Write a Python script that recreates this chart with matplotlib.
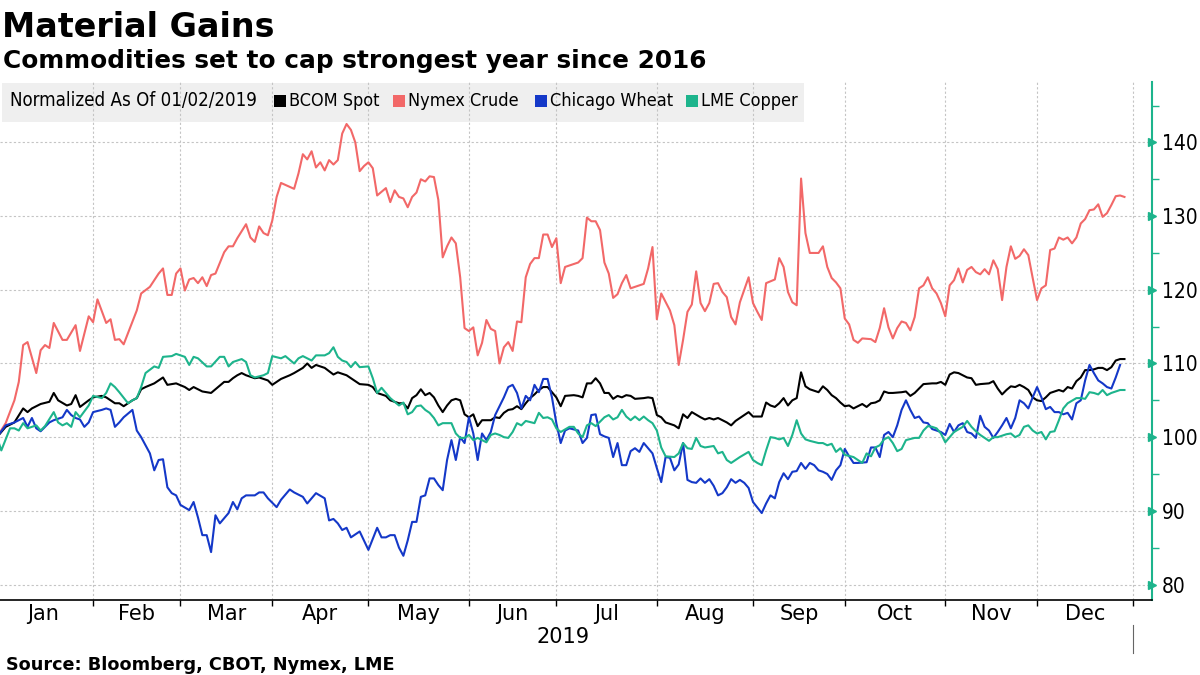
import matplotlib
matplotlib.use("Agg")
import matplotlib.pyplot as plt
import matplotlib.transforms as mtransforms
from matplotlib.patches import Rectangle
from matplotlib.ticker import NullFormatter
import pandas as pd

# values normalized to 100 on 01/02/2019; x = trading session number (0 = Jan 2, 2019)
bcom = [(0,100.0),(2,101.4),(4,102.0),(6,103.9),(7,103.4),(8,103.9),(10,104.5),(12,104.8),(13,106.0),(14,105.0),(16,104.3),(17,104.5),(18,105.7),(19,104.1),(21,105.0),(22,105.4),(24,105.6),(25,105.4),(27,104.6),(28,104.6),(29,104.2),(31,105.0),(32,105.3),(33,106.5),(34,106.8),(36,107.3),(38,108.1),(39,107.1),(41,107.3),(43,106.8),(44,106.4),(45,106.8),(47,106.2),(49,106.0),(52,107.5),(53,107.5),(54,108.0),(55,108.4),(56,108.7),(57,108.4),(59,108.0),(60,108.1),(62,107.7),(63,107.1),(65,107.9),(67,108.4),(68,108.7),(70,109.4),(71,110.0),(72,109.4),(73,109.8),(75,109.4),(77,108.5),(78,108.8),(80,108.4),(81,108.0),(83,107.2),(85,107.1),(86,106.8),(87,106.0),(89,105.6),(90,105.0),(92,104.6),(93,104.6),(94,103.9),(95,105.3),(96,105.7),(97,106.5),(98,105.7),(99,106.0),(100,105.4),(101,104.3),(102,103.4),(103,104.3),(104,105.0),(105,105.2),(106,105.0),(107,103.1),(108,102.7),(109,103.1),(110,101.5),(111,102.3),(112,102.3),(113,102.3),(114,102.7),(115,102.6),(116,103.3),(117,103.7),(118,103.8),(119,104.2),(120,103.8),(121,104.6),(122,105.3),(123,105.8),(124,106.4),(125,106.8),(126,106.8),(127,106.1),(128,105.4),(129,104.2),(130,105.6),(132,105.7),(133,105.6),(134,105.4),(135,107.3),(136,107.3),(137,108.0),(138,107.3),(139,106.0),(140,106.0),(141,105.2),(142,105.6),(143,105.4),(144,105.7),(145,105.6),(146,105.2),(148,105.3),(149,105.4),(150,105.3),(151,103.0),(152,102.7),(153,102.0),(155,101.6),(156,101.2),(157,103.1),(158,102.6),(159,103.4),(161,102.7),(162,102.4),(163,102.6),(164,102.4),(165,102.6),(167,102.0),(168,101.6),(169,102.2),(171,103.0),(172,103.4),(173,102.8),(175,102.8),(176,104.7),(177,104.3),(178,104.1),(179,104.6),(180,105.3),(181,104.3),(182,105.0),(183,105.3),(184,108.8),(185,106.9),(186,106.5),(188,106.1),(189,106.9),(190,106.4),(191,105.7),(192,105.3),(193,104.7),(194,104.2),(195,104.3),(196,103.9),(197,104.2),(198,104.5),(199,104.1),(200,104.6),(201,104.7),(202,105.0),(203,106.2),(204,106.0),(205,106.0),(207,106.1),(208,106.2),(209,105.6),(210,106.0),(211,106.6),(212,107.2),(214,107.3),(215,107.3),(216,107.5),(217,107.1),(218,108.5),(219,108.8),(220,108.7),(222,108.1),(223,108.0),(224,107.1),(225,107.2),(227,107.3),(228,107.6),(229,106.6),(230,105.8),(231,106.4),(232,106.9),(233,106.8),(234,107.1),(235,106.8),(236,106.4),(237,105.4),(238,105.0),(239,104.9),(240,105.4),(241,106.0),(242,106.2),(243,106.4),(244,106.2),(245,106.8),(246,106.6),(247,107.6),(248,108.1),(249,109.1),(250,109.1),(251,109.2),(252,109.4),(253,109.4),(254,109.1),(255,109.5),(256,110.4),(257,110.6),(258,110.6)]

crude = [(0,100.0),(2,101.9),(4,105.0),(5,107.5),(6,112.5),(7,112.9),(9,108.7),(10,111.8),(11,112.5),(12,112.1),(13,115.5),(15,113.2),(16,113.2),(18,115.2),(19,111.7),(21,116.4),(22,115.6),(23,118.7),(25,115.5),(26,116.0),(27,113.2),(28,113.3),(29,112.6),(32,117.2),(33,119.5),(35,120.4),(37,122.2),(38,122.9),(39,119.3),(40,119.3),(41,122.2),(42,122.9),(43,119.9),(44,121.4),(45,121.6),(46,120.9),(47,121.7),(48,120.5),(49,122.0),(50,122.2),(52,125.1),(53,125.9),(54,125.9),(55,127.0),(57,128.9),(58,127.1),(59,126.5),(60,128.6),(61,127.7),(62,127.4),(63,129.4),(64,132.6),(65,134.5),(68,133.7),(69,135.8),(70,138.4),(71,137.7),(72,138.8),(73,136.6),(74,137.3),(75,136.2),(76,137.6),(77,137.0),(78,137.6),(79,141.2),(80,142.5),(81,141.7),(82,140.0),(83,136.1),(84,136.8),(85,137.3),(86,136.5),(87,132.8),(89,133.8),(90,131.9),(91,133.5),(92,132.6),(93,132.4),(94,131.2),(95,132.6),(96,133.2),(97,135.0),(98,134.7),(99,135.4),(100,135.3),(101,132.2),(102,124.4),(103,125.9),(104,127.1),(105,126.3),(106,121.7),(107,114.8),(108,114.4),(109,114.9),(110,111.1),(111,112.8),(112,115.9),(113,114.7),(114,114.4),(115,110.0),(116,112.2),(117,112.9),(118,111.7),(119,115.7),(120,115.6),(121,121.7),(122,123.5),(123,124.3),(124,124.3),(125,127.5),(126,127.5),(127,125.8),(128,127.0),(129,120.9),(130,123.1),(131,123.3),(132,123.5),(133,123.7),(134,124.3),(135,129.8),(136,129.3),(137,129.3),(138,128.1),(139,123.7),(140,122.2),(141,118.9),(142,119.4),(143,120.9),(144,122.0),(145,120.2),(146,120.4),(148,120.8),(149,122.9),(150,125.8),(151,116.0),(152,119.5),(154,117.2),(155,115.2),(156,109.8),(157,113.2),(158,117.0),(159,118.0),(160,122.5),(161,118.2),(162,117.1),(163,118.2),(164,120.8),(165,120.9),(166,119.7),(167,119.0),(168,116.3),(169,115.3),(170,118.3),(172,121.7),(173,118.2),(174,117.0),(175,115.9),(176,120.9),(178,121.4),(179,124.3),(180,123.1),(181,119.7),(182,118.3),(183,117.9),(184,135.1),(185,127.7),(186,125.0),(188,125.0),(189,125.9),(190,123.1),(191,121.6),(192,121.0),(193,120.2),(194,116.1),(195,115.3),(196,113.2),(197,112.8),(198,113.4),(200,113.3),(201,112.9),(202,114.8),(203,117.5),(204,114.9),(205,113.4),(206,114.8),(207,115.7),(208,115.5),(209,114.5),(210,116.3),(211,120.2),(212,120.6),(213,121.7),(214,120.2),(215,119.5),(216,118.2),(217,116.4),(218,120.6),(219,121.3),(220,122.9),(221,121.0),(222,122.7),(223,123.1),(224,122.4),(225,122.1),(226,122.8),(227,122.1),(228,124.0),(229,122.8),(230,118.6),(231,123.1),(232,125.9),(233,124.2),(234,124.6),(235,125.5),(236,124.7),(237,121.6),(238,118.6),(239,120.2),(240,120.6),(241,125.4),(242,125.6),(243,127.1),(244,126.8),(245,127.1),(246,126.3),(247,127.1),(248,129.0),(249,129.6),(250,130.8),(251,130.9),(252,131.6),(253,129.9),(254,130.4),(255,131.5),(256,132.7),(257,132.8),(258,132.6)]

wheat = [(0,100.0),(2,101.6),(4,102.0),(6,102.6),(7,101.4),(8,102.6),(9,101.2),(10,100.8),(12,102.0),(13,102.3),(15,102.7),(16,103.7),(17,103.0),(18,102.6),(19,102.4),(20,101.4),(21,102.0),(22,103.4),(24,103.7),(25,103.9),(26,103.7),(27,101.4),(28,102.0),(29,102.7),(31,103.7),(32,100.9),(33,100.0),(35,97.8),(36,95.5),(37,96.9),(38,97.0),(39,93.2),(40,92.4),(41,92.1),(42,90.8),(44,90.1),(45,91.2),(46,89.1),(47,86.7),(48,86.7),(49,84.4),(50,89.4),(51,88.3),(53,89.7),(54,91.2),(55,90.2),(56,91.7),(57,92.1),(59,92.1),(60,92.5),(61,92.5),(62,91.7),(64,90.5),(65,91.5),(67,92.9),(68,92.5),(70,91.9),(71,91.0),(73,92.4),(75,91.7),(76,88.7),(77,88.9),(78,88.3),(79,87.4),(80,87.7),(81,86.4),(83,87.2),(85,84.7),(87,87.7),(88,86.4),(89,86.4),(90,86.7),(91,86.7),(92,85.0),(93,83.9),(94,86.0),(95,88.5),(96,88.5),(97,91.9),(98,92.1),(99,94.4),(100,94.4),(101,93.5),(102,92.8),(103,96.9),(104,99.6),(105,96.9),(106,100.0),(107,99.2),(108,102.7),(109,100.5),(110,96.9),(111,100.5),(112,99.6),(113,100.7),(114,103.0),(116,105.4),(117,106.8),(118,107.1),(119,106.0),(120,103.9),(121,105.6),(122,105.0),(123,107.1),(124,106.1),(125,107.9),(126,107.9),(127,105.4),(128,101.9),(129,99.2),(130,100.9),(131,101.2),(133,100.9),(134,99.2),(135,99.9),(136,103.0),(137,103.1),(138,100.4),(139,100.1),(140,99.9),(141,97.3),(142,99.2),(143,96.2),(144,96.2),(145,98.1),(146,98.5),(147,98.0),(148,99.2),(150,97.8),(151,95.8),(152,93.9),(153,97.3),(154,97.2),(155,95.5),(156,96.3),(157,99.2),(158,94.2),(159,93.9),(160,93.8),(161,94.4),(162,93.8),(163,94.3),(164,93.4),(165,92.1),(166,92.4),(167,93.2),(168,94.3),(169,93.8),(170,94.2),(171,93.8),(172,93.1),(173,91.2),(175,89.7),(176,91.0),(177,92.1),(178,91.7),(179,93.9),(180,95.1),(181,94.3),(182,95.3),(183,95.4),(184,96.5),(185,95.7),(186,96.5),(187,96.2),(188,95.5),(189,95.3),(190,95.0),(191,94.2),(192,95.5),(193,96.2),(194,98.4),(195,97.4),(196,96.5),(197,96.5),(199,96.6),(200,98.6),(201,98.6),(202,97.3),(203,100.3),(204,100.7),(205,100.0),(206,101.6),(207,103.7),(208,105.0),(209,103.7),(210,102.6),(211,102.8),(212,102.0),(213,101.9),(214,101.1),(215,100.9),(216,100.7),(217,100.3),(218,101.8),(219,100.7),(220,101.6),(221,101.9),(222,100.7),(223,100.5),(224,99.9),(225,102.9),(226,101.4),(227,100.9),(228,99.9),(229,100.7),(230,101.6),(231,102.6),(232,101.2),(233,102.6),(234,105.0),(235,104.6),(236,103.9),(237,105.4),(238,106.8),(239,105.4),(240,103.8),(241,104.1),(242,103.4),(243,103.4),(244,103.1),(245,103.3),(246,102.4),(247,104.6),(248,105.0),(249,107.7),(250,109.8),(251,108.7),(252,107.7),(253,107.3),(254,106.8),(255,106.6),(256,108.1),(257,109.8)]

copper = [(0,100.0),(1,98.2),(3,101.2),(4,101.2),(5,100.9),(6,101.9),(7,101.2),(9,101.6),(10,100.9),(11,101.5),(13,103.4),(14,102.0),(15,101.6),(16,101.9),(17,101.4),(18,103.4),(19,102.7),(21,104.3),(22,105.6),(24,105.3),(25,106.0),(26,107.3),(27,106.8),(28,106.1),(30,104.6),(31,105.0),(32,105.3),(33,106.8),(34,108.7),(36,109.6),(37,109.4),(38,110.9),(40,111.0),(41,111.3),(43,110.9),(44,109.8),(45,110.9),(46,110.7),(48,109.6),(49,109.6),(51,110.9),(52,110.9),(53,109.6),(54,110.2),(56,110.6),(57,110.2),(58,108.4),(59,108.1),(61,108.4),(62,108.7),(63,111.0),(65,110.7),(66,111.0),(68,110.0),(69,110.7),(70,111.0),(72,110.4),(73,111.1),(75,111.1),(76,111.4),(77,112.2),(78,110.9),(79,110.4),(80,110.2),(81,109.5),(82,110.2),(83,109.5),(85,109.6),(86,108.0),(87,106.0),(88,106.7),(89,106.0),(90,105.3),(92,104.3),(93,104.7),(94,103.1),(95,103.4),(96,104.2),(97,104.3),(98,103.7),(99,103.3),(100,102.6),(101,101.6),(102,101.9),(104,101.9),(105,100.5),(106,99.9),(107,99.9),(108,100.3),(109,99.6),(110,99.9),(112,99.3),(113,100.3),(114,100.5),(115,100.3),(116,100.0),(117,99.9),(118,100.7),(119,101.9),(120,101.6),(121,102.2),(123,101.9),(124,103.3),(125,102.6),(126,102.7),(127,102.4),(128,101.2),(129,100.7),(131,101.4),(132,101.4),(133,100.5),(134,100.0),(135,101.6),(136,101.9),(137,101.5),(139,102.7),(140,103.0),(141,102.4),(142,102.7),(143,103.7),(144,102.8),(145,102.3),(146,102.8),(147,102.3),(148,102.8),(149,102.3),(150,101.9),(151,100.9),(152,98.6),(153,97.4),(155,97.3),(156,97.8),(157,99.2),(158,98.5),(159,98.4),(160,99.9),(161,98.8),(162,98.6),(164,98.8),(165,97.8),(166,98.0),(167,96.9),(168,96.5),(169,96.9),(170,97.3),(172,98.0),(173,96.9),(174,96.5),(175,96.2),(176,98.2),(177,100.0),(178,99.9),(179,99.7),(180,99.9),(181,98.8),(182,100.3),(183,102.3),(184,100.5),(185,99.7),(186,99.5),(188,99.2),(189,99.2),(190,98.9),(191,99.1),(192,98.0),(193,98.5),(194,97.6),(196,97.3),(197,96.9),(198,96.5),(199,97.8),(200,97.4),(201,98.6),(202,98.9),(203,99.7),(204,100.0),(205,99.2),(206,98.1),(207,98.4),(208,99.6),(210,99.9),(211,99.9),(212,100.9),(213,101.5),(214,101.4),(215,101.2),(216,100.5),(217,99.3),(218,100.0),(219,100.7),(221,101.4),(222,102.2),(223,101.4),(224,100.8),(225,100.3),(226,99.9),(227,99.5),(228,100.0),(229,100.0),(231,100.4),(232,100.5),(233,100.0),(234,100.3),(235,101.4),(236,101.6),(237,100.9),(238,100.5),(239,100.7),(240,99.7),(241,100.7),(242,100.8),(243,102.3),(244,103.9),(245,104.6),(247,105.3),(248,105.3),(249,105.2),(250,106.1),(251,106.0),(252,105.8),(253,106.4),(254,105.7),(255,106.0),(256,106.2),(257,106.4),(258,106.4)]

series_names = ["BCOM Spot", "Nymex Crude", "Chicago Wheat", "LME Copper"]
series_data = [bcom, crude, wheat, copper]
series_colors = ["#000000", "#f26868", "#1438c8", "#1db48c"]

y_ticks = [80, 90, 100, 110, 120, 130, 140]
month_labels = ["Jan", "Feb", "Mar", "Apr", "May", "Jun", "Jul", "Aug", "Sep", "Oct", "Nov", "Dec"]

TEAL = "#1db48c"
GRID = "#c4c4c4"

plt.rcParams["font.family"] = "DejaVu Sans"

sessions = pd.bdate_range("2019-01-02", "2020-01-31")
month_starts = [i for i in range(1, len(sessions)) if sessions[i].month != sessions[i - 1].month][:12]
edges = [-1] + month_starts
month_centers = [(a + b) / 2 for a, b in zip(edges[:-1], edges[1:])]

fig = plt.figure(figsize=(12, 6.75), dpi=100)
ax = fig.add_axes([0, 75 / 675, 1152 / 1200, 518 / 675])

for pts, color in zip(series_data, series_colors):
    days = [p[0] for p in pts]
    vals = [p[1] for p in pts]
    ax.plot(days, vals, color=color, lw=1.5, solid_joinstyle="round", zorder=3)

ax.set_xlim(0.7, 264.3)
ax.set_ylim(77.9, 148.2)

for side in ["left", "top"]:
    ax.spines[side].set_visible(False)
ax.spines["right"].set_color(TEAL)
ax.spines["right"].set_linewidth(1.5)
ax.spines["bottom"].set_color("black")
ax.spines["bottom"].set_linewidth(1.2)

# y axis on the right
ax.yaxis.tick_right()
ax.set_yticks(y_ticks)
ax.set_yticks([v + 5 for v in y_ticks], minor=True)
ax.tick_params(axis="y", which="major", length=0, pad=7, labelsize=15)
ax.tick_params(axis="y", which="minor", length=5, width=1, color=TEAL)
ymark = mtransforms.blended_transform_factory(ax.transAxes, ax.transData)
ax.plot([1.0] * len(y_ticks), y_ticks, linestyle="none", marker=">", markersize=6,
        color=TEAL, transform=ymark, clip_on=False, zorder=5)

# x axis: month boundaries + centered month names
ax.set_xticks(month_starts)
ax.xaxis.set_major_formatter(NullFormatter())
ax.set_xticks(month_centers, minor=True)
ax.set_xticklabels(month_labels, minor=True)
ax.tick_params(axis="x", which="major", length=4, width=1, color="black")
ax.tick_params(axis="x", which="minor", length=0, pad=3, labelsize=15)

for lbl in ax.get_yticklabels():
    lbl.set_fontstretch("condensed")

ax.grid(True, which="major", color=GRID, linestyle=(0, (2, 2)), lw=0.8)
ax.set_axisbelow(True)

xmark = mtransforms.blended_transform_factory(ax.transData, ax.transAxes)
ax.text((edges[0] + edges[-1]) / 2, -0.071, "2019", transform=xmark, ha="center", va="center", fontsize=15)
ax.plot([month_starts[-1]] * 2, [-0.048, -0.102], transform=xmark, color="#666666", lw=0.8, clip_on=False)

# legend bar (sits under the grid, like the original)
ax.add_patch(Rectangle((2 / 1200, 1 - 122 / 675), 802 / 1200, 39 / 675, transform=fig.transFigure,
                       facecolor="#efefef", edgecolor="none", zorder=0.2, clip_on=False))
ly = 1 - 101 / 675
fig.text(10 / 1200, ly, "Normalized As Of 01/02/2019", fontsize=13.4, va="center", fontstretch="condensed")
legend_x = [274, 393, 535, 686]
for x0, name, color in zip(legend_x, series_names, series_colors):
    fig.patches.append(Rectangle((x0 / 1200, ly - 6 / 675), 12 / 1200, 12 / 675, transform=fig.transFigure,
                                 facecolor=color, edgecolor="none", zorder=3))
    fig.text((x0 + 15) / 1200, ly, name, fontsize=13, va="center", fontstretch="condensed")

fig.text(2 / 1200, 1 - 37 / 675, "Material Gains", fontsize=24, fontweight="bold", va="baseline")
fig.text(3 / 1200, 1 - 68 / 675, "Commodities set to cap strongest year since 2016", fontsize=17.8,
         fontweight="bold", va="baseline")
fig.text(6 / 1200, 5 / 675, "Source: Bloomberg, CBOT, Nymex, LME", fontsize=12.7, fontweight="bold", va="baseline")

fig.savefig("out.png", dpi=100)
